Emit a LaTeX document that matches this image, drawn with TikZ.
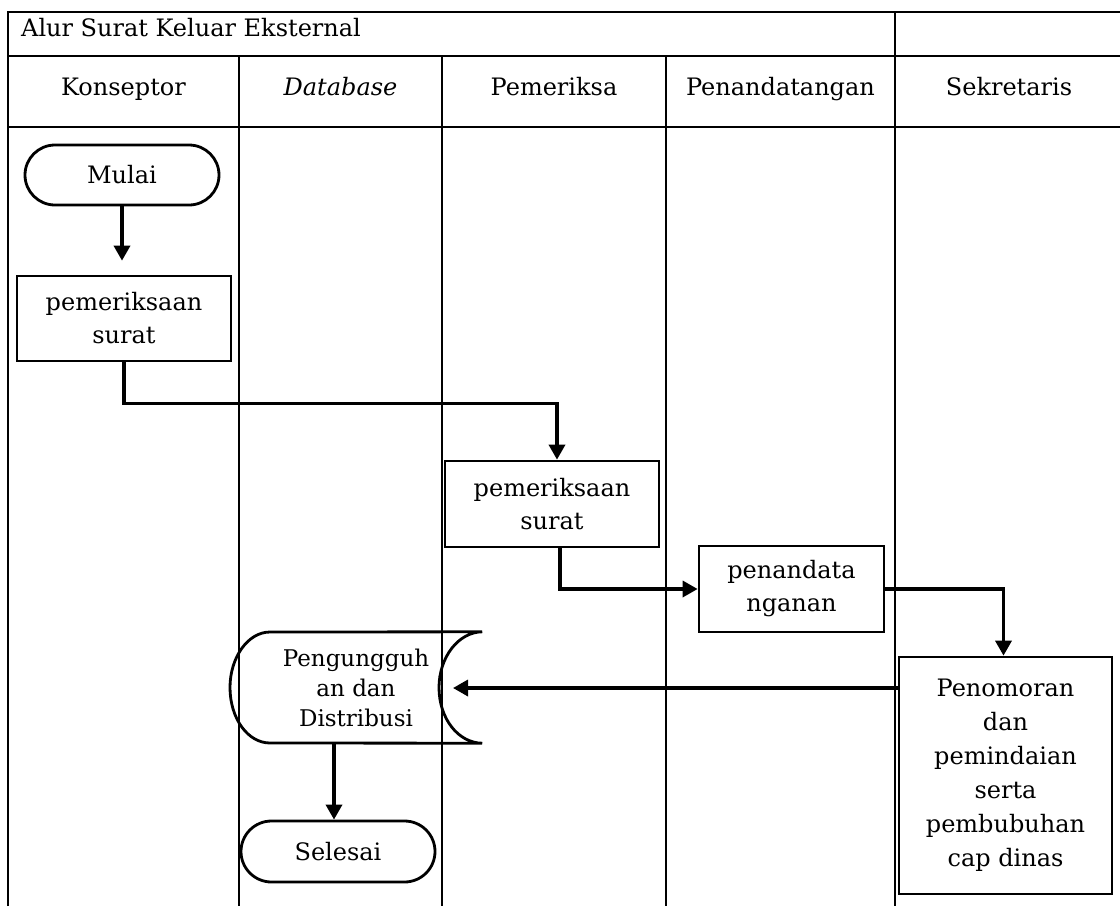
\documentclass[tikz,border=0pt]{standalone}
\usepackage{fontspec}
\setmainfont{DejaVu Serif}
\usetikzlibrary{arrows.meta,shapes.misc}
\begin{document}
\begin{tikzpicture}[x=1pt,y=-1pt,
  lane/.style={line width=1.5pt},
  proc/.style={draw,line width=2.7pt,align=center,inner sep=0pt},
  term/.style={draw,rounded rectangle,line width=2.8pt,align=center,inner sep=0pt},
  conn/.style={line width=3.4pt,-{Triangle[length=15pt,width=16pt]}},
  lbl/.style={anchor=base,inner sep=0pt},
  font=\fontsize{24}{33}\selectfont]
\useasboundingbox (0,0) rectangle (1120,906);
% grid
\draw[lane] (8,906) -- (8,12) -- (1120,12);
\draw[lane] (8,56) -- (1120,56);
\draw[lane] (8,127) -- (1120,127);
\draw[lane] (239,56) -- (239,906);
\draw[lane] (442,56) -- (442,906);
\draw[lane] (666,56) -- (666,906);
\draw[lane] (895,12) -- (895,906);
% headings
\node[lbl,anchor=base west] (title) at (21,36) {Alur Surat Keluar Eksternal};
\node[lbl] (h1) at (123.5,95) {Konseptor};
\node[lbl] (h2) at (340.5,95) {\textit{Database}};
\node[lbl] (h3) at (554,95) {Pemeriksa};
\node[lbl] (h4) at (780.5,95) {Penandatangan};
\node[lbl] (h5) at (1009,95) {Sekretaris};
% nodes
\node[term,minimum width=194pt,minimum height=60pt] (mulai) at (122,175) {Mulai};
\node[proc,minimum width=214pt,minimum height=85pt] (b1) at (124,318.5) {pemeriksaan\\surat};
\node[proc,minimum width=214pt,minimum height=86pt] (b2) at (552,504) {pemeriksaan\\surat};
\node[proc,minimum width=185pt,minimum height=86pt] (b3) at (791.5,589) {penandata\\nganan};
\node[proc,minimum width=213pt,minimum height=237pt,font=\fontsize{24}{34}\selectfont] (b4) at (1005.5,775.5) {Penomoran\\dan\\pemindaian\\serta\\pembubuhan\\cap dinas};
\node[minimum width=252pt,minimum height=111pt,inner sep=0pt,align=center,font=\fontsize{23}{30}\selectfont] (dist) at (356,687.5) {Pengungguh\\an dan\\Distribusi};
\draw[line width=2.8pt] (dist.north east) -- (270,632)
  .. controls (247.9,632) and (230,657.4) .. (230,687.5)
  .. controls (230,718.6) and (247.9,743) .. (270,743)
  -- (dist.south east)
  .. controls (458.3,743) and (439,718.6) .. (439,687.5)
  .. controls (439,657.4) and (458.3,632) .. cycle;
\node[term,minimum width=194pt,minimum height=61pt] (sel) at (338,851.5) {Selesai};
% connectors
\coordinate (t1) at ([yshift=14pt]b1.north);
\draw[conn] (mulai.south) -- (mulai.south |- t1);
\draw[conn] (b1.south) -- ++(0,41) -| ([xshift=5pt]b2.north);
\draw[conn] ([xshift=8pt]b2.south) |- (b3.west);
\draw[conn] (b3.east) -| ([xshift=-2pt]b4.north);
\coordinate (distin) at (453,688);
\draw[conn] (b4.west |- distin) -- (distin);
\coordinate (selin) at ([xshift=-4pt]sel.north);
\draw[conn] (selin |- dist.south) -- (selin);
\end{tikzpicture}
\end{document}
